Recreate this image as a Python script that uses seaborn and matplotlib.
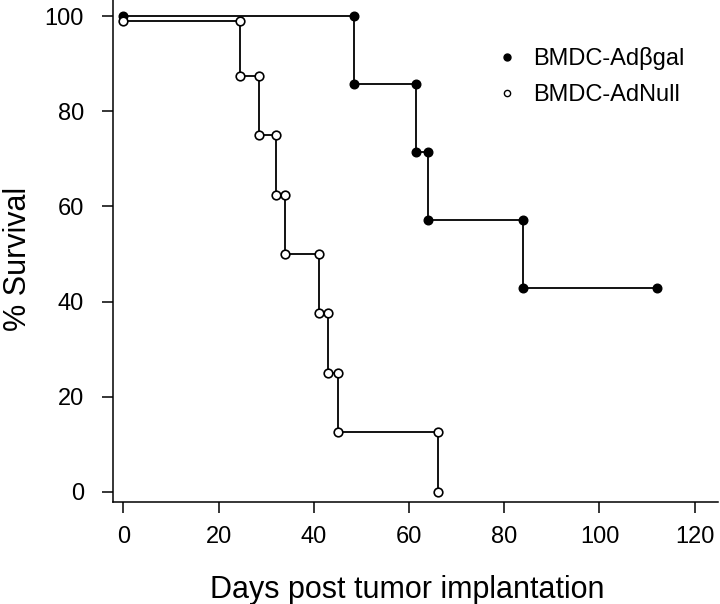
import matplotlib
matplotlib.use('Agg')
import matplotlib.pyplot as plt
from matplotlib.lines import Line2D
import seaborn as sns
import pandas as pd

# Kaplan-Meier style survival
groups = ['BMDC-Adβgal', 'BMDC-AdNull']
adbgal_change_days = [48.5, 61.5, 64, 84]
adbgal_levels = [100, 85.7, 71.4, 57.1, 42.9]
adbgal_last_day = 112
adnull_change_days = [24.5, 28.5, 32, 34, 41, 43, 45, 66]
adnull_levels = [99, 87.5, 75, 62.5, 50, 37.5, 25, 12.5, 0]
adnull_last_day = 66

x_ticks = [0, 20, 40, 60, 80, 100, 120]
y_ticks = [0, 20, 40, 60, 80, 100]


def step_corners(change_days, levels, last_day):
    xs, ys = [0], [levels[0]]
    for k, t in enumerate(change_days):
        xs += [t, t]
        ys += [levels[k], levels[k + 1]]
    if last_day > change_days[-1]:
        xs.append(last_day)
        ys.append(levels[-1])
    return pd.DataFrame({'day': xs, 'survival': ys})


sns.set_style('ticks')
plt.rcParams['font.family'] = ['Liberation Sans', 'DejaVu Sans']
plt.rcParams.update({'text.color': 'black', 'axes.labelcolor': 'black',
                     'xtick.color': 'black', 'ytick.color': 'black',
                     'axes.edgecolor': 'black'})

fig = plt.figure(figsize=(7.2, 6.04), dpi=100)
ax = fig.add_axes([113 / 720, 1 - 502 / 604, (718 - 113) / 720, 502 / 604])

bgal = step_corners(adbgal_change_days, adbgal_levels, adbgal_last_day)
null = step_corners(adnull_change_days, adnull_levels, adnull_last_day)

sns.lineplot(data=bgal, x='day', y='survival', ax=ax, sort=False, estimator=None,
             color='black', lw=1.3, marker='o', markersize=6.2,
             markerfacecolor='black', markeredgecolor='black', markeredgewidth=1)
sns.lineplot(data=null, x='day', y='survival', ax=ax, sort=False, estimator=None,
             color='black', lw=1.3, marker='o', markersize=6.2,
             markerfacecolor='white', markeredgecolor='black', markeredgewidth=1.2)

ax.set_xlim(-2.16, 124.9)
ax.set_ylim(-2.16, 103.4)
ax.set_xticks(x_ticks)
ax.set_yticks(y_ticks)
sns.despine(ax=ax)
for s in ['left', 'bottom']:
    ax.spines[s].set_linewidth(1.1)
ax.tick_params(axis='both', direction='out', length=8, width=1.1, labelsize=17)
ax.tick_params(axis='x', pad=9)
ax.tick_params(axis='y', pad=13)

ax.set_xlabel('Days post tumor implantation', fontsize=22)
ax.set_ylabel('% Survival', fontsize=22)
ax.xaxis.set_label_coords((407.5 - 113) / (718 - 113), -(595 - 502) / 502 - 0.005, transform=ax.transAxes)
ax.xaxis.label.set_va('baseline')
ax.yaxis.set_label_coords(-(113 - 3) / (718 - 113), 1 - 259 / 502)
ax.yaxis.label.set_va('top')

handles = [
    Line2D([], [], ls='none', marker='o', markersize=5, markerfacecolor='black',
           markeredgecolor='black'),
    Line2D([], [], ls='none', marker='o', markersize=4.5, markerfacecolor='white',
           markeredgecolor='black', markeredgewidth=1),
]
fig.legend(handles, groups, loc='upper left', bbox_to_anchor=(495 / 720, 1 - 47 / 604),
           frameon=False, fontsize=17, handlelength=1, handletextpad=0.6,
           labelspacing=0.6, borderpad=0, borderaxespad=0)

plt.savefig('out.png', dpi=100)
